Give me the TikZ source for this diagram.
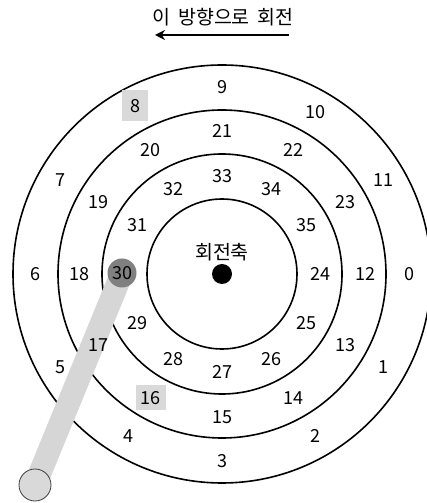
\documentclass[tikz,border=0pt]{standalone}
\usepackage{fontspec}
\setmainfont{Noto Sans CJK KR}
\usetikzlibrary{arrows.meta, backgrounds}

\begin{document}
\begin{tikzpicture}[
  x=1pt, y=1pt,
  every node/.style = {font=\fontsize{18}{21}\selectfont},
  kor/.style    = {font=\fontsize{19.5}{23}\selectfont},
  ring/.style   = {draw=black, line width=1.6pt},
  num/.style    = {inner sep=1pt},
  hlbox/.style  = {rectangle, fill=black!15, inner sep=0pt},
  dark/.style   = {circle, fill=black!50, minimum size=29pt, inner sep=0pt},
  handle/.style = {circle, fill=black!15, draw=black!75, line width=0.8pt,
                   minimum size=32pt, inner sep=0pt},
  bar/.style    = {draw=black!16, line width=23pt},
  arr/.style    = {-{Stealth[length=10pt, width=10pt]}, line width=2.6pt},
]
\useasboundingbox (0,0) rectangle (426,503);
\clip (0,0) rectangle (426,503);

\coordinate (C) at (222,229);

%% ── Title and direction ───────────────────────────────────────────────────
\node[kor] (title) at (223,486) {이\hspace{8pt}방향으로\hspace{8pt}회전};
\coordinate (arrR) at (289,468);
\coordinate (arrL) at (155,468);
\draw[arr] (arrR) -- (arrL);

%% ── Rings ─────────────────────────────────────────────────────────────────
\begin{scope}[on background layer]
  \foreach \r in {209,164,120,75}
    \draw[ring] (C) circle[radius=\r];
\end{scope}

%% ── Outer ring: 0 .. 11 ───────────────────────────────────────────────────
\foreach \k in {0,...,7,9,10,11}
  \node[num] (n\k) at ([shift={({-30*\k}:187)}]C) {\k};
\node[hlbox, minimum width=26pt, minimum height=31pt]
  (n8) at (135,397) {8};

%% ── Middle ring: 12 .. 23 ──────────────────────────────────────────────────
\foreach \k in {12,...,15,17,18,...,23}
  \node[num] (n\k) at ([shift={({-30*(\k-12)}:143)}]C) {\k};
\node[hlbox, minimum width=30pt, minimum height=25pt]
  (n16) at ([shift={(-120:143)}]C) {16};

%% ── Inner ring: 24 .. 35 ───────────────────────────────────────────────────
\foreach \k in {24,...,29,31,32,...,35}
  \node[num] (n\k) at ([shift={({-30*(\k-24)}:98)}]C) {\k};
\node[dark] (n30) at (122,230) {30};

%% ── Axis ──────────────────────────────────────────────────────────────────
\node[circle, fill=black, minimum size=20pt, inner sep=0pt] (axis) at (C) {};
\node[kor] (axislbl) at (222,251) {회전축};

%% ── Handle ────────────────────────────────────────────────────────────────
\node[handle] (hnd) at (35,18) {};
\begin{scope}[on background layer]
  \draw[bar] (n30.center) -- (hnd.center);
\end{scope}

\end{tikzpicture}
\end{document}
